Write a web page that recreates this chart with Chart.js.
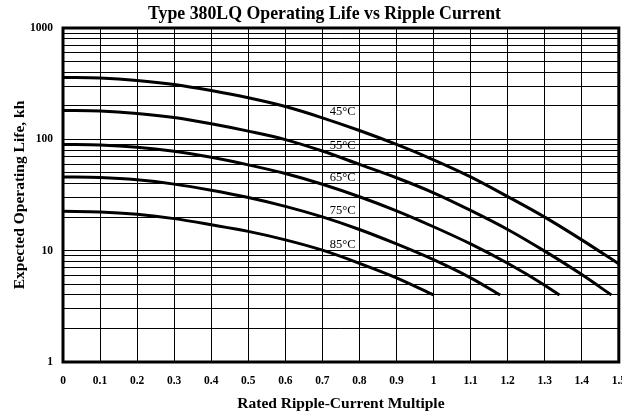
<!DOCTYPE html>
<html>
<head>
<meta charset="utf-8">
<script src="https://cdn.jsdelivr.net/npm/chart.js@4.4.1/dist/chart.umd.min.js"></script>
<style>
  html, body { margin: 0; padding: 0; background: #fff; overflow: hidden; }
  canvas { display: block; }
</style>
</head>
<body>
<canvas id="lifeChart" width="638" height="415"></canvas>
<script>
const chartTitle = 'Type 380LQ Operating Life vs Ripple Current';
const xTitle = 'Rated Ripple-Current Multiple';
const yTitle = 'Expected Operating Life, kh';

const temps = ['45°C', '55°C', '65°C', '75°C', '85°C'];
const ripple = [0, 0.1, 0.2, 0.3, 0.4, 0.5, 0.6, 0.7, 0.8, 0.9, 1.0, 1.1, 1.2, 1.3, 1.4];

// life in kh at the ripple steps above
const life45 = [360, 355, 338, 311, 274, 236, 197, 156, 120, 90, 65.5, 46, 30.6, 20, 12.5];
const life55 = [182, 180, 171, 157, 138, 118.5, 99.5, 78.5, 59.6, 45.2, 33.1, 23, 15.5, 9.9, 6.1];
const life65 = [90, 89, 85, 78, 69, 59, 49.3, 39.5, 30.5, 22.8, 16.4, 11.5, 7.7, 4.9];
const life75 = [46, 45.4, 43.3, 39.6, 34.9, 30, 25, 20.1, 15.5, 11.5, 8.3, 5.7];
const life85 = [22.6, 22.3, 21.2, 19.4, 17.1, 14.9, 12.5, 10.1, 7.7, 5.7];

// where each curve stops
const endRipple = [1.5, 1.48, 1.34, 1.18, 1.0];
const endLife = [7.6, 4, 4, 4, 4];

const lifeTicks = [1, 2, 3, 4, 5, 6, 7, 8, 9, 10, 20, 30, 40, 50, 60, 70, 80, 90,
  100, 200, 300, 400, 500, 600, 700, 800, 900, 1000];
const labelRipple = 0.755;

const series = [life45, life55, life65, life75, life85];
const serif = '"Liberation Serif", "Times New Roman", serif';

function buildPoints(values, i) {
  const pts = values.map((v, k) => ({ x: ripple[k], y: v }));
  pts.push({ x: endRipple[i], y: endLife[i] });
  return pts;
}

function lifeAt(values, r) {
  const k = Math.floor(r * 10 + 1e-9);
  const t = (r - ripple[k]) / 0.1;
  const lg = Math.log10(values[k]) * (1 - t) + Math.log10(values[k + 1]) * t;
  return Math.pow(10, lg);
}

const titlePlugin = {
  id: 'topTitle',
  afterDraw(chart) {
    const ctx = chart.ctx;
    ctx.save();
    ctx.font = 'bold 17.8px ' + serif;
    ctx.fillStyle = '#000';
    ctx.textAlign = 'center';
    ctx.textBaseline = 'alphabetic';
    ctx.fillText(chartTitle, 324.5, 19);
    ctx.restore();
  }
};

const framePlugin = {
  id: 'frameAndLabels',
  afterDatasetsDraw(chart) {
    const { ctx, chartArea, scales } = chart;
    ctx.save();
    ctx.strokeStyle = '#000';
    ctx.lineWidth = 3;
    ctx.strokeRect(chartArea.left, chartArea.top,
      chartArea.right - chartArea.left, chartArea.bottom - chartArea.top);

    ctx.font = '12.5px ' + serif;
    ctx.fillStyle = '#000';
    ctx.textAlign = 'center';
    ctx.textBaseline = 'middle';
    series.forEach((values, i) => {
      const px = scales.x.getPixelForValue(labelRipple);
      const py = scales.y.getPixelForValue(lifeAt(values, labelRipple));
      ctx.fillText(temps[i], px, py - 13);
    });
    ctx.restore();
  }
};

const ctx = document.getElementById('lifeChart').getContext('2d');

new Chart(ctx, {
  type: 'line',
  data: {
    datasets: series.map((values, i) => ({
      label: temps[i],
      data: buildPoints(values, i),
      borderColor: '#000',
      borderWidth: 3,
      pointRadius: 0,
      fill: false,
      cubicInterpolationMode: 'monotone'
    }))
  },
  options: {
    responsive: false,
    animation: false,
    layout: { padding: { top: 28, right: 14, bottom: 0, left: 0 } },
    plugins: {
      legend: { display: false },
      title: { display: false },
      tooltip: { enabled: false }
    },
    scales: {
      x: {
        type: 'linear',
        min: 0,
        max: 1.5,
        afterFit(scale) { scale.height = 53; },
        grid: { color: '#000', lineWidth: 1, drawTicks: false },
        border: { display: false },
        ticks: {
          stepSize: 0.1,
          autoSkip: false,
          maxRotation: 0,
          padding: 12,
          color: '#000',
          font: { family: serif, size: 11.5, weight: 'bold' },
          callback: (v) => Number(v.toFixed(1)).toString()
        },
        title: {
          display: true,
          text: xTitle,
          color: '#000',
          padding: { top: 0, bottom: 2 },
          font: { family: serif, size: 15.5, weight: 'bold' }
        }
      },
      y: {
        type: 'logarithmic',
        min: 1,
        max: 1000,
        afterFit(scale) { scale.width = 63; },
        afterBuildTicks(scale) {
          scale.ticks = lifeTicks.map(v => ({ value: v }));
        },
        grid: { color: '#000', lineWidth: 1, drawTicks: false },
        border: { display: false },
        ticks: {
          autoSkip: false,
          padding: 10,
          color: '#000',
          font: { family: serif, size: 11.5, weight: 'bold' },
          callback: (v) => ([1, 10, 100, 1000].includes(v) ? String(v) : '')
        },
        title: {
          display: true,
          text: yTitle,
          color: '#000',
          padding: { top: 11, bottom: 0 },
          font: { family: serif, size: 15.5, weight: 'bold' }
        }
      }
    }
  },
  plugins: [titlePlugin, framePlugin]
});
</script>
</body>
</html>
